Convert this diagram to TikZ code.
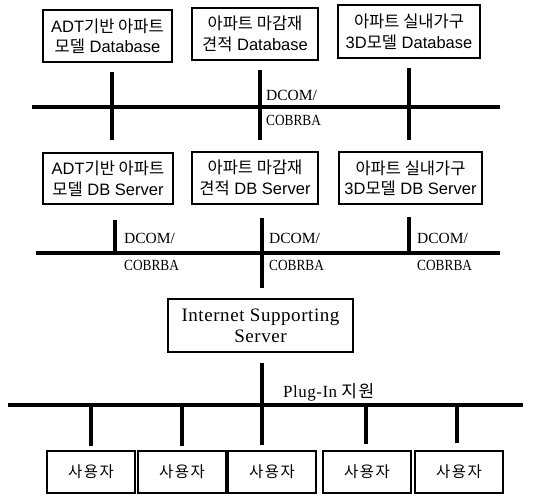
\documentclass[tikz,border=0pt]{standalone}
\usepackage{fontspec}
\setmainfont{Liberation Sans}
\newfontfamily\krfont{Noto Sans CJK KR}
\newfontfamily\krspaced{Noto Sans CJK KR}[LetterSpace=10]
\newfontfamily\serwide{Liberation Serif}
\newfontfamily\sernarrow{Liberation Serif}[FakeStretch=0.86]
\newfontfamily\serspaced{Liberation Serif}[LetterSpace=3]
\newcommand{\hk}[1]{{\krfont #1}}
\begin{document}
\begin{tikzpicture}[x=1pt,y=-1pt,
  box/.style={draw, line width=1.7pt, align=center, inner sep=0pt,
    font=\fontsize{16.5}{20.5}\selectfont},
  userbox/.style={draw, line width=1.7pt, inner sep=0pt,
    minimum width=88pt, minimum height=42pt,
    font=\krspaced\fontsize{15.5}{17}\selectfont},
  bus/.style={line width=3.4pt},
  tap/.style={line width=3.2pt},
  lbl/.style={anchor=base west, inner sep=0pt,
    font=\fontsize{15.5}{17}\selectfont}]
\useasboundingbox (0,0) rectangle (547,496);

% database layer
\node[box, minimum width=129pt, minimum height=52pt] (db1) at (107.5,36)
  {ADT\hk{기반 아파트}\\\hk{모델} Database};
\node[box, minimum width=126pt, minimum height=52pt] (db2) at (255,34)
  {\hk{아파트 마감재}\\\hk{견적} Database};
\node[box, minimum width=142pt, minimum height=53pt] (db3) at (409,31.5)
  {\hk{아파트 실내가구}\\3D\hk{모델} Database};

% first DCOM/CORBA bus
\coordinate (b1w) at (32,107);
\coordinate (b1e) at (500,107);
\draw[bus] (b1w) -- (b1e);
\coordinate (a1) at (112,72);  \coordinate (a1s) at (112,140);
\coordinate (a2) at (260,70);  \coordinate (a2s) at (260,140);
\coordinate (a3) at (409,68);  \coordinate (a3s) at (409,140);
\draw[tap] (a1) -- (a1s);
\draw[tap] (a2) -- (a2s);
\draw[tap] (a3) -- (a3s);
\node[lbl] (l0a) at (266,100) {\serwide DCOM/};
\node[lbl] (l0b) at (266,125) {\sernarrow COBRBA};

% DB server layer
\node[box, minimum width=130pt, minimum height=51pt] (sv1) at (108,178.5)
  {ADT\hk{기반 아파트}\\\hk{모델} DB Server};
\node[box, minimum width=126pt, minimum height=52pt] (sv2) at (255,178)
  {\hk{아파트 마감재}\\\hk{견적} DB Server};
\node[box, minimum width=143pt, minimum height=52pt] (sv3) at (410.5,178)
  {\hk{아파트 실내가구}\\3D\hk{모델} DB Server};

% second DCOM/CORBA bus
\coordinate (b2w) at (36,253);
\coordinate (b2e) at (500,253);
\draw[bus] (b2w) -- (b2e);
\coordinate (c1) at (115,220);  \coordinate (c1s) at (115,253);
\coordinate (c2) at (262,218);  \coordinate (c2s) at (262,288);
\coordinate (c3) at (409,217);  \coordinate (c3s) at (409,253);
\draw[tap] (c1) -- (c1s);
\draw[tap] (c2) -- (c2s);
\draw[tap] (c3) -- (c3s);
\node[lbl] (l1a) at (124,243) {\serwide DCOM/};
\node[lbl] (l1b) at (124,270) {\sernarrow COBRBA};
\node[lbl] (l2a) at (269,243) {\serwide DCOM/};
\node[lbl] (l2b) at (269,270) {\sernarrow COBRBA};
\node[lbl] (l3a) at (417,243) {\serwide DCOM/};
\node[lbl] (l3b) at (417,270) {\sernarrow COBRBA};

% internet server
\node[draw, line width=1.7pt, align=center, inner sep=0pt,
  minimum width=185pt, minimum height=53pt,
  font=\serspaced\fontsize{19}{21}\selectfont] (iss) at (260.5,325.5)
  {Internet Supporting\\Server};

% client bus
\coordinate (p0) at (262,363);
\coordinate (p0s) at (262,445);
\draw[tap] (p0) -- (p0s);
\coordinate (b3w) at (8,405);
\coordinate (b3e) at (523,405);
\draw[bus] (b3w) -- (b3e);
\node[anchor=base west, inner sep=0pt, font=\serspaced\fontsize{17}{19}\selectfont]
  (plug) at (283,397) {Plug-In\hspace{4pt}{\krspaced 지원}};

% clients
\node[userbox] (u1) at (91,472) {사용자};
\node[userbox] (u2) at (182,472) {사용자};
\node[userbox] (u3) at (272,472) {사용자};
\node[userbox] (u4) at (367,472) {사용자};
\node[userbox] (u5) at (459,472) {사용자};
\coordinate (d1) at (91,405);
\coordinate (d2) at (182,405);
\coordinate (d4) at (366,405);
\coordinate (d5) at (457,405);
\draw[tap] (d1) -- (d1 |- 0,446);
\draw[tap] (d2) -- (d2 |- 0,446);
\draw[tap] (d4) -- (d4 |- 0,444);
\draw[tap] (d5) -- (d5 |- 0,443);
\end{tikzpicture}
\end{document}
